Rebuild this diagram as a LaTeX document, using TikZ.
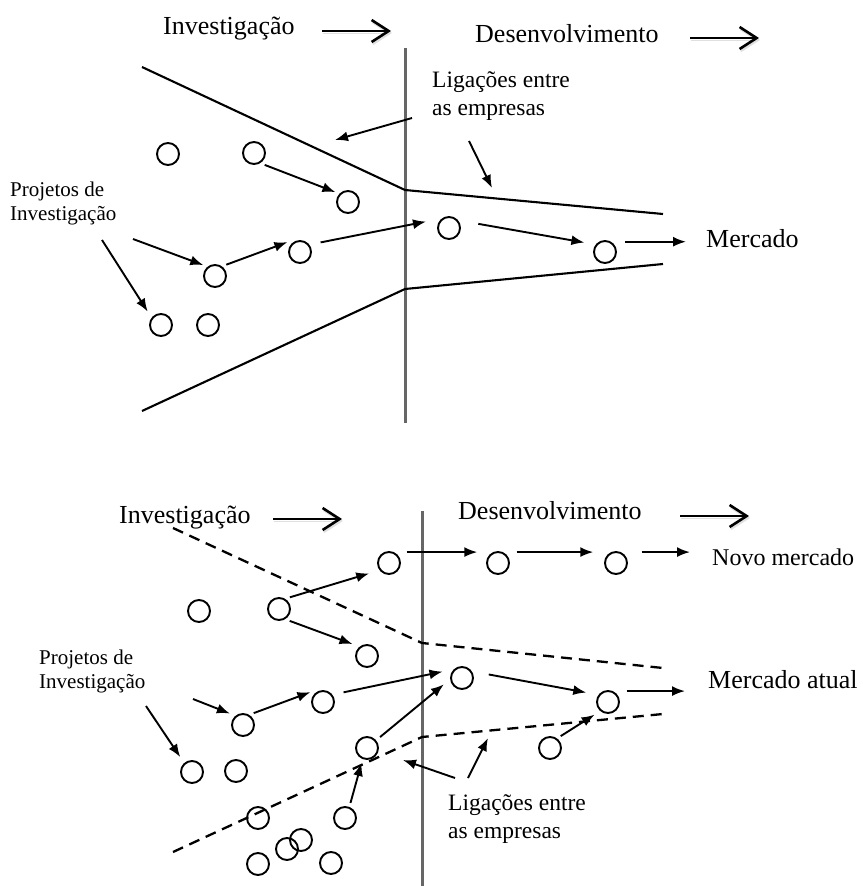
\documentclass[tikz,border=0pt]{standalone}
\usepackage{fontspec}
\setmainfont{Liberation Serif}
\usetikzlibrary{arrows.meta}
\tikzset{
  %% Styles %%
  projcirc/.style = {circle, draw, line width=1.9pt, minimum size=22pt, inner sep=0pt, outer sep=5pt},
  flow/.style = {line width=1.9pt, -{Latex[length=13pt, width=10pt]}},
  phase/.style = {line width=2.8pt, -{Straight Barb[length=17pt, width=22pt, line width=2.6pt]},
                  preaction={draw=black!12, transform canvas={shift={(1pt,-2pt)}}}},
  funnel/.style = {line width=2.1pt},
  funneldash/.style = {funnel, line width=2.3pt, dash pattern=on 11pt off 7pt},
  divider/.style = {line width=3pt, draw=black!60},
  title/.style = {anchor=base west, inner sep=0pt, font=\fontsize{26}{30}\selectfont},
  bignote/.style = {anchor=base west, inner sep=0pt, align=left, font=\fontsize{23.5}{28}\selectfont},
  smallnote/.style = {anchor=base west, inner sep=0pt, align=left, font=\fontsize{21}{24}\selectfont},
}

\begin{document}
\begin{tikzpicture}[x=1pt, y=-1pt]
    \useasboundingbox (0,0) rectangle (862,886);

    % ---------- upper diagram ----------
    \node[title] (invA) at (163,34) {Investigação};
    \node[title] (devA) at (475,42) {Desenvolvimento};
    \coordinate (pA0) at (322,31);  \coordinate (pA1) at (391,31);
    \coordinate (pA2) at (690,38);  \coordinate (pA3) at (759,38);
    \draw[phase] (pA0) -- (pA1);
    \draw[phase] (pA2) -- (pA3);

    \draw[divider] (405,48) -- (405,423);
    \draw[funnel] (142,67) -- (405,190) -- (663,214);
    \draw[funnel] (142,411) -- (405,289) -- (663,264);

    % multi-line notes: base = last line
    \node[bignote] (ligA) at (432,115) {Ligações entre\\as empresas};
    \node[smallnote] (projA) at (10,220) {Projetos de\\Investigação};
    \node[title] (mercA) at (706,247) {Mercado};

    \foreach \n/\x/\y in {a1/168/154, a2/254/153, a3/348/202, a4/300/252, a5/215/276,
                          a6/161/325, a7/208/325, a8/449/228, a9/605/252}
        \node[projcirc] (\n) at (\x,\y) {};

    \draw[flow] (a2.312) -- (a3.142);
    \draw[flow] (a5.45) -- (a4.142);
    \draw[flow, shorten <=7pt, shorten >=9.5pt] (a4.31) -- (a8.149);
    \draw[flow, shorten <=15pt, shorten >=7pt] (a8.25) -- (a9.149);
    \draw[flow, shorten <=8pt, shorten >=20pt] (a9.40) -- (a9.40 -| mercA.west);

    \coordinate (tP1) at (133,239);  \coordinate (tP2) at (102,240);
    \draw[flow] (tP1) -- (a5.137);
    \draw[flow, shorten >=3pt] (tP2) -- (a6.137);

    \coordinate (tL1) at (412,118);  \coordinate (hL1) at (335,140);
    \coordinate (tL2) at (469,141);  \coordinate (hL2) at (492,188);
    \draw[flow] (tL1) -- (hL1);
    \draw[flow] (tL2) -- (hL2);

    % ---------- lower diagram ----------
    \node[title] (invB) at (119,523) {Investigação};
    \node[title] (devB) at (458,519) {Desenvolvimento};
    \coordinate (pB0) at (273,519);  \coordinate (pB1) at (342,519);
    \coordinate (pB2) at (680,516);  \coordinate (pB3) at (749,516);
    \draw[phase] (pB0) -- (pB1);
    \draw[phase] (pB2) -- (pB3);

    \draw[divider] (422,511) -- (422,886);
    \draw[funneldash] (173,528) -- (422,643) -- (663,668);
    \draw[funneldash] (173,852) -- (422,737) -- (663,714);

    \node[smallnote] (projB) at (39,688) {Projetos de\\Investigação};
    \node[bignote] (ligB) at (448,838) {Ligações entre\\as empresas};
    \node[title, font=\fontsize{24}{28}\selectfont] (novoB) at (712,565) {Novo mercado};
    \node[title] (mercB) at (708,688) {Mercado atual};

    \foreach \n/\x/\y in {b1/389/563, b2/498/563, b3/616/563, b4/199/611, b5/279/609,
                          b6/367/656, b7/323/702, b8/243/725, b9/462/678, b10/608/702,
                          b11/367/748, b12/550/748, b13/192/772, b14/236/771, b15/258/818,
                          b16/345/818, b17/301/840, b18/287/849, b19/258/864, b20/331/863}
        \node[projcirc] (\n) at (\x,\y) {};

    \draw[flow, shorten <=6pt, shorten >=9pt] (b1.43) -- (b2.137);
    \draw[flow, shorten <=7pt, shorten >=11pt] (b2.43) -- (b3.137);
    \draw[flow, shorten <=14pt, shorten >=22pt] (b3.43) -- (b3.43 -| novoB.west);
    \draw[flow, shorten >=6.5pt] (b5.47) -- (b1.212);
    \draw[flow, shorten >=3pt] (b5.312) -- (b6.137);
    \draw[flow] (b8.48) -- (b7.142);
    \draw[flow, shorten <=7pt, shorten >=5.5pt] (b7.31) -- (b9.152);
    \draw[flow, shorten <=1pt, shorten >=3.5pt] (b11.40) -- (b9.195);
    \draw[flow] (b16.70) -- (b11.250);
    \draw[flow, shorten <=12pt, shorten >=8pt] (b9.21) -- (b10.150);
    \draw[flow, shorten >=2.5pt] (b12.48) -- (b10.225);
    \draw[flow, shorten <=7pt, shorten >=23pt] (b10.43) -- (b10.43 -| mercB.west);

    \coordinate (tP3) at (193,699);  \coordinate (tP4) at (146,706);
    \draw[flow, shorten >=1.5pt] (tP3) -- (b8.137);
    \draw[flow, shorten >=3pt] (tP4) -- (b13.129);

    \coordinate (tL3) at (455,778);  \coordinate (hL3) at (403,760);
    \coordinate (tL4) at (468,778);  \coordinate (hL4) at (488,738);
    \draw[flow] (tL3) -- (hL3);
    \draw[flow] (tL4) -- (hL4);
\end{tikzpicture}
\end{document}
